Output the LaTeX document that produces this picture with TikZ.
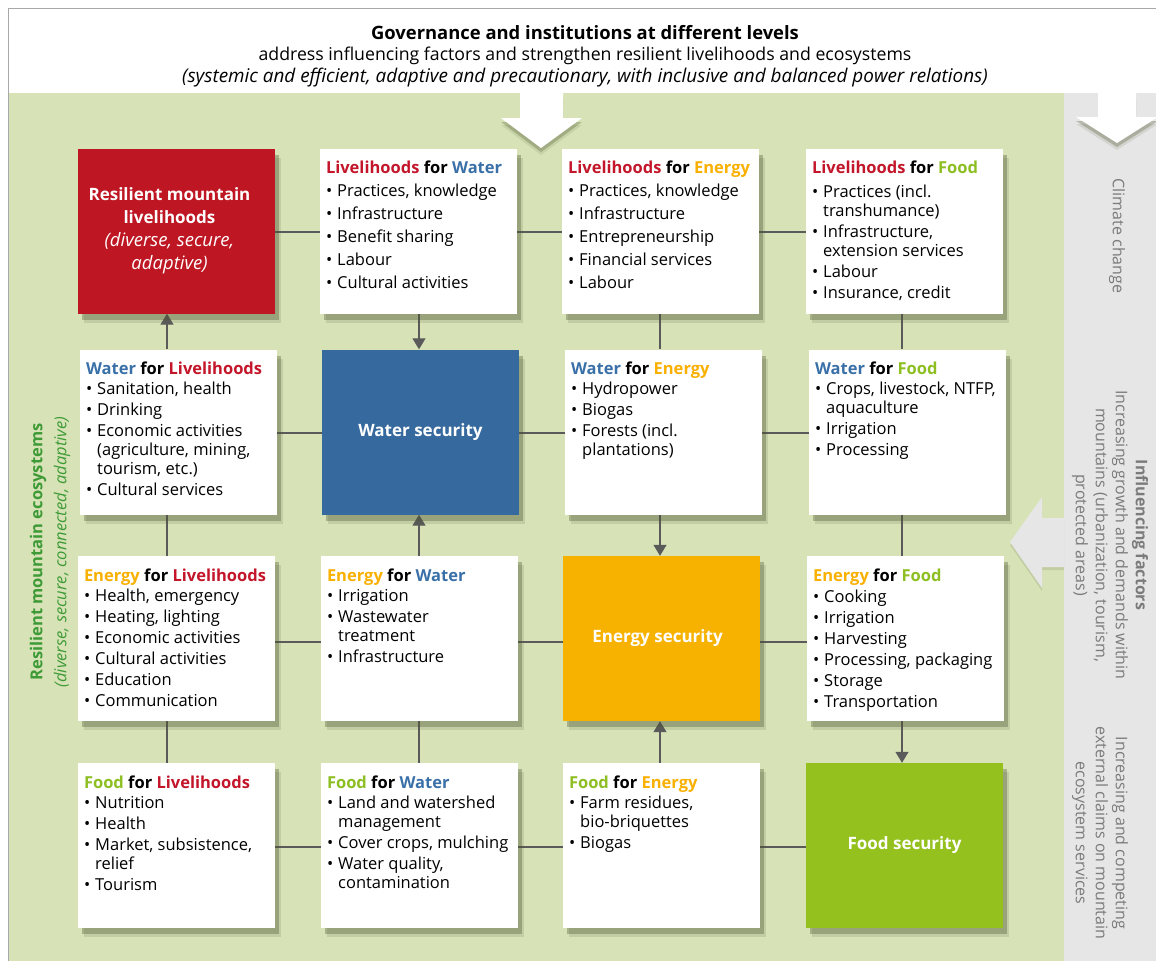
\documentclass[tikz,border=0pt]{standalone}
\usepackage{fontspec}
\setmainfont{Open Sans}
\usetikzlibrary{shadows,arrows.meta}
\definecolor{bgGreen}{HTML}{D7E3B7}
\definecolor{panelGray}{HTML}{E6E6E6}
\definecolor{borderGray}{HTML}{A8A8A8}
\definecolor{liveRed}{HTML}{BE1622}
\definecolor{waterBlue}{HTML}{36699D}
\definecolor{energyOr}{HTML}{F7B200}
\definecolor{foodGreen}{HTML}{95C11F}
\definecolor{tLive}{HTML}{C4162A}
\definecolor{tWater}{HTML}{3A70A8}
\definecolor{tEnergy}{HTML}{F9B000}
\definecolor{tFood}{HTML}{8DBE22}
\definecolor{lineGray}{HTML}{5A5A5A}
\definecolor{ecoGreen}{HTML}{3E9A36}
\definecolor{sideGray}{HTML}{7B7B7B}
\definecolor{shadowCol}{HTML}{4F5632}
\pgfdeclarelayer{back}
\pgfdeclarelayer{lines}
\pgfsetlayers{back,lines,main}
\newcommand{\itA}[1]{\textbullet & #1\\[\itgap]}
\newcommand{\itB}[2]{\textbullet & #1\\ & #2\\[\itgap]}
\newcommand{\itC}[3]{\textbullet & #1\\ & #2\\ & #3\\[\itgap]}
% #1 title gap, #2 item gap, #3 title, #4 items
\newcommand{\boxcontent}[4]{\parbox[c][149pt][t]{185pt}{\fontsize{16.5}{19}\selectfont
  \def\itgap{#2}%
  \vspace*{4pt}\setlength{\tabcolsep}{0pt}%
  \begin{tabular}[t]{@{}l@{\hspace{5pt}}l@{}}
  \multicolumn{2}{@{}l@{}}{\textbf{#3}}\\[#1]
  #4
  \end{tabular}}}
\newcommand{\LV}{\textcolor{tLive}{Livelihoods}}
\newcommand{\WA}{\textcolor{tWater}{Water}}
\newcommand{\EN}{\textcolor{tEnergy}{Energy}}
\newcommand{\FO}{\textcolor{tFood}{Food}}
\tikzset{
  softshadow/.style={drop shadow={shadow xshift=4pt, shadow yshift=-6pt, fill=shadowCol, opacity=0.35},
                     drop shadow={shadow xshift=6pt, shadow yshift=-9pt, fill=shadowCol, opacity=0.15}},
  infobox/.style={fill=white, inner xsep=6pt, inner ysep=8pt, softshadow},
  secbox/.style={minimum width=197pt, minimum height=165pt, inner sep=0pt, text=white, align=center,
                 font=\fontsize{17}{23}\selectfont\bfseries, softshadow},
  conn/.style={draw=lineGray, line width=1.3pt},
  arr/.style={conn, -{Triangle[width=13pt,length=11pt]}},
  bigarrow/.style={fill=white, drop shadow={shadow xshift=0pt, shadow yshift=-4pt, fill=shadowCol, opacity=0.3},
                   drop shadow={shadow xshift=0pt, shadow yshift=-7pt, fill=shadowCol, opacity=0.12}},
  sidetext/.style={text=sideGray, align=center, font=\fontsize{16}{20}\selectfont}
}
\begin{document}
\begin{tikzpicture}[x=1pt,y=-1pt]
\useasboundingbox (0,0) rectangle (1156,961);
\begin{pgfonlayer}{back}
  \fill[white] (0,0) rectangle (1156,961);
  \fill[bgGreen] (8,93) rectangle (1064,961);
  \fill[panelGray] (1064,93) rectangle (1156,961);
  \draw[borderGray, line width=1pt] (8,961) -- (8,8) -- (1156,8);
  % top centre arrow
  \fill[bigarrow] (520,93) -- (563,93) -- (563,118) -- (582,118) -- (541,148) -- (501,118) -- (520,118) -- cycle;
  % top right arrow
  \fill[bigarrow] (1098,93) -- (1136,93) -- (1136,117) -- (1158,117) -- (1117,143) -- (1076,117) -- (1098,117) -- cycle;
  % influencing factors arrow
  \fill[panelGray, drop shadow={shadow xshift=0pt, shadow yshift=-3pt, fill=shadowCol, opacity=0.15}]
    (1064,518) -- (1042,518) -- (1042,497) -- (1010,542) -- (1042,588) -- (1042,567) -- (1064,567) -- cycle;
\end{pgfonlayer}

% header
\node[font=\fontsize{18.4}{20}\selectfont\bfseries] (h1) at (585,33) {Governance and institutions at different levels};
\node[font=\fontsize{17.7}{20}\selectfont] (h2) at (585,56) {address influencing factors and strengthen resilient livelihoods and ecosystems};
\node[font=\fontsize{18.9}{20}\selectfont\itshape] (h3) at (585,78) {(systemic and efficient, adaptive and precautionary, with inclusive and balanced power relations)};

% side texts
\node[rotate=90, text=ecoGreen, align=center, font=\fontsize{16.5}{24}\selectfont] (eco) at (50,552)
  {\textbf{Resilient mountain ecosystems}\\\textit{(diverse, secure, connected, adaptive)}};
\node[rotate=-90, sidetext] (cc) at (1117,236) {Climate change};
\node[rotate=-90, sidetext] (inf) at (1110,535)
  {\textbf{Influencing factors}\\Increasing growth and demands within\\mountains (urbanization, tourism,\\protected areas)};
\node[rotate=-90, sidetext] (ext) at (1100,833)
  {Increasing and competing\\external claims on mountain\\ecosystem services};

% row 1
\node[secbox, fill=liveRed, align=left] (rl) at (176.5,231)
  {\parbox{183pt}{\centering Resilient mountain\\livelihoods\\{\mdseries\itshape\fontsize{18.5}{23}\selectfont (diverse, secure,}\\{\mdseries\itshape\fontsize{18.5}{23}\selectfont adaptive)}}\hspace*{14pt}};
\node[infobox] (lw) at (418.5,231) {\boxcontent{4pt}{4pt}{\LV{} for \WA}{%
  \itA{Practices, knowledge}\itA{Infrastructure}\itA{Benefit sharing}\itA{Labour}\itA{Cultural activities}}};
\node[infobox] (le) at (660.5,231) {\boxcontent{4pt}{4pt}{\LV{} for \EN}{%
  \itA{Practices, knowledge}\itA{Infrastructure}\itA{Entrepreneurship}\itA{Financial services}\itA{Labour}}};
\node[infobox] (lf) at (904.5,231) {\boxcontent{5pt}{2pt}{\LV{} for \FO}{%
  \itB{Practices (incl.}{transhumance)}\itB{Infrastructure,}{extension services}\itA{Labour}\itA{Insurance, credit}}};

% row 2
\node[infobox] (wl) at (178.5,432) {\boxcontent{1pt}{2pt}{\WA{} for \LV}{%
  \itA{Sanitation, health}\itA{Drinking}\itC{Economic activities}{(agriculture, mining,}{tourism, etc.)}\itA{Cultural services}}};
\node[secbox, fill=waterBlue] (ws) at (420.5,432) {Water security};
\node[infobox] (we) at (663.5,432) {\boxcontent{1pt}{2pt}{\WA{} for \EN}{%
  \itA{Hydropower}\itA{Biogas}\itB{Forests (incl.}{plantations)}}};
\node[infobox] (wf) at (907.5,432) {\boxcontent{1pt}{2pt}{\WA{} for \FO}{%
  \itB{Crops, livestock, NTFP,}{aquaculture}\itA{Irrigation}\itA{Processing}}};

% row 3
\node[infobox] (el) at (176.5,638.5) {\boxcontent{1pt}{2pt}{\EN{} for \LV}{%
  \itA{Health, emergency}\itA{Heating, lighting}\itA{Economic activities}\itA{Cultural activities}\itA{Education}\itA{Communication}}};
\node[infobox] (ew) at (419.5,638.5) {\boxcontent{1pt}{2pt}{\EN{} for \WA}{%
  \itA{Irrigation}\itB{Wastewater}{treatment}\itA{Infrastructure}}};
\node[secbox, fill=energyOr] (es) at (661.5,638.5) {Energy security\hspace*{8pt}};
\node[infobox] (ef) at (905.5,638.5) {\boxcontent{2pt}{2pt}{\EN{} for \FO}{%
  \itA{Cooking}\itA{Irrigation}\itA{Harvesting}\itA{Processing, packaging}\itA{Storage}\itA{Transportation}}};

% row 4
\node[infobox] (fl) at (176.5,845.5) {\boxcontent{1pt}{2pt}{\FO{} for \LV}{%
  \itA{Nutrition}\itA{Health}\itB{Market, subsistence,}{relief}\itA{Tourism}}};
\node[infobox] (fw) at (419.5,845.5) {\boxcontent{1pt}{2pt}{\FO{} for \WA}{%
  \itB{Land and watershed}{management}\itA{Cover crops, mulching}\itB{Water quality,}{contamination}}};
\node[infobox] (fe) at (661.5,845.5) {\boxcontent{1pt}{2pt}{\FO{} for \EN}{%
  \itB{Farm residues,}{bio-briquettes}\itA{Biogas}}};
\node[secbox, fill=foodGreen] (fs) at (904.5,845.5) {Food security};

% grid coordinates
\coordinate (c1) at (167,0);
\coordinate (c2) at (419,0);
\coordinate (c3) at (660,0);
\coordinate (c4) at (902,0);
\coordinate (r1) at (0,232);
\coordinate (r2) at (0,433);
\coordinate (r3) at (0,642);
\coordinate (r4) at (0,847);

\begin{pgfonlayer}{lines}
  % horizontal
  \draw[conn] (rl.east |- r1) -- (lw.west |- r1);
  \draw[conn] (lw.east |- r1) -- (le.west |- r1);
  \draw[conn] (le.east |- r1) -- (lf.west |- r1);
  \draw[conn] (wl.east |- r2) -- (ws.west |- r2);
  \draw[conn] (ws.east |- r2) -- (we.west |- r2);
  \draw[conn] (we.east |- r2) -- (wf.west |- r2);
  \draw[conn] (el.east |- r3) -- (ew.west |- r3);
  \draw[conn] (ew.east |- r3) -- (es.west |- r3);
  \draw[conn] (es.east |- r3) -- (ef.west |- r3);
  \draw[conn] (fl.east |- r4) -- (fw.west |- r4);
  \draw[conn] (fw.east |- r4) -- (fe.west |- r4);
  \draw[conn] (fe.east |- r4) -- (fs.west |- r4);
  % vertical
  \draw[arr] (wl.north -| c1) -- (rl.south -| c1);
  \draw[conn] (wl.south -| c1) -- (el.north -| c1);
  \draw[conn] (el.south -| c1) -- (fl.north -| c1);
  \draw[arr] (lw.south -| c2) -- (ws.north -| c2);
  \draw[arr] (ew.north -| c2) -- (ws.south -| c2);
  \draw[conn] (ew.south -| c2) -- (fw.north -| c2);
  \draw[conn] (le.south -| c3) -- (we.north -| c3);
  \draw[arr] (we.south -| c3) -- (es.north -| c3);
  \draw[arr] (fe.north -| c3) -- (es.south -| c3);
  \draw[conn] (lf.south -| c4) -- (wf.north -| c4);
  \draw[conn] (wf.south -| c4) -- (ef.north -| c4);
  \draw[arr] (ef.south -| c4) -- (fs.north -| c4);
\end{pgfonlayer}
\end{tikzpicture}
\end{document}
